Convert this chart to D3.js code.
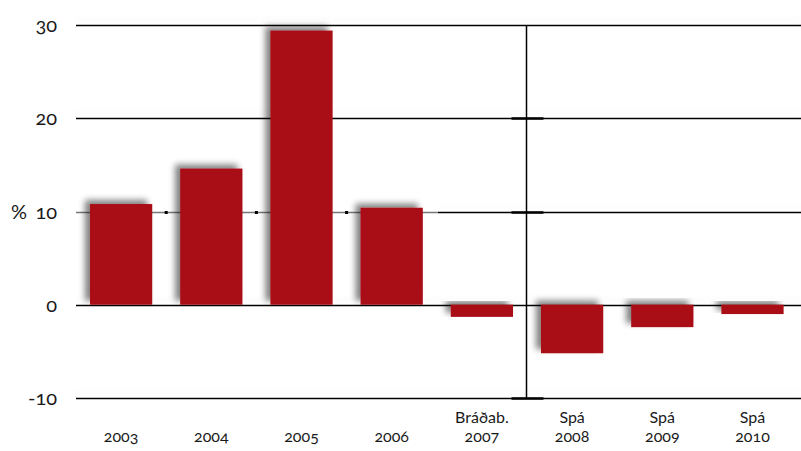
<!DOCTYPE html>
<html>
<head>
<meta charset="utf-8">
<script src="https://cdn.jsdelivr.net/npm/d3@7"></script>
<style>
  body { margin: 0; background: #fff; }
  text { font-family: "Lato", "Open Sans", sans-serif; font-variant-numeric: oldstyle-nums; fill: #1a1a1a; }
</style>
</head>
<body>
<div id="chart"></div>
<script>
// Data
let categories = ["2003", "2004", "2005", "2006", "Bráðab.\n2007", "Spá\n2008", "Spá\n2009", "Spá\n2010"];
let values = [10.8, 14.6, 29.4, 10.4, -1.3, -5.2, -2.4, -1.0];
let yTicks = [-10, 0, 10, 20, 30];

let svgWidth = 801;
let svgHeight = 451;
let margin = { top: 25, right: 0, bottom: 53, left: 76 };
let width = svgWidth - margin.left - margin.right;
let height = svgHeight - margin.top - margin.bottom;

let svg = d3.select("#chart")
  .append("svg")
  .attr("width", svgWidth)
  .attr("height", svgHeight);

// soft shadows
let defs = svg.append("defs");
let barShadow = defs.append("filter").attr("id", "barShadow")
  .attr("x", "-30%").attr("y", "-30%").attr("width", "160%").attr("height", "160%");
barShadow.append("feGaussianBlur").attr("in", "SourceAlpha").attr("stdDeviation", 3).attr("result", "b");
barShadow.append("feOffset").attr("in", "b").attr("dx", -5).attr("dy", -4).attr("result", "o");
barShadow.append("feComponentTransfer").attr("in", "o").attr("result", "s")
  .append("feFuncA").attr("type", "linear").attr("slope", 0.5);
let m1 = barShadow.append("feMerge");
m1.append("feMergeNode").attr("in", "s");
m1.append("feMergeNode").attr("in", "SourceGraphic");

let lineShadow = defs.append("filter").attr("id", "lineShadow")
  .attr("filterUnits", "userSpaceOnUse")
  .attr("x", -10).attr("y", -20).attr("width", 820).attr("height", 440);
lineShadow.append("feGaussianBlur").attr("in", "SourceAlpha").attr("stdDeviation", 3).attr("result", "b");
lineShadow.append("feOffset").attr("in", "b").attr("dx", 0).attr("dy", -6).attr("result", "o");
lineShadow.append("feComponentTransfer").attr("in", "o").attr("result", "s")
  .append("feFuncA").attr("type", "linear").attr("slope", 0.06);
let m2 = lineShadow.append("feMerge");
m2.append("feMergeNode").attr("in", "s");
m2.append("feMergeNode").attr("in", "SourceGraphic");

let chartGroup = svg.append("g")
  .attr("transform", `translate(${margin.left}, ${margin.top})`);

let xScale = d3.scaleBand()
  .domain(categories)
  .range([0, 8 * 90.2])
  .paddingInner(0.31)
  .paddingOuter(0.155);

let yScale = d3.scaleLinear()
  .domain([-10, 30])
  .range([height, 0]);

let snap = v => Math.round(v) + 0.5;

// gridlines
chartGroup.append("g")
  .attr("filter", "url(#lineShadow)")
  .selectAll("line")
  .data(yTicks)
  .enter()
  .append("line")
  .attr("x1", d => d === 10 ? xScale(categories[4]) - 13 : 0)
  .attr("x2", width)
  .attr("y1", d => snap(yScale(d)))
  .attr("y2", d => snap(yScale(d)))
  .attr("stroke", "#000")
  .attr("stroke-width", 1.5);

// left part of the 10 line sits under the bar shadows, so it reads grey
chartGroup.append("line")
  .attr("x1", 0)
  .attr("x2", xScale(categories[4]) - 13)
  .attr("y1", snap(yScale(10)))
  .attr("y2", snap(yScale(10)))
  .attr("stroke", "#777")
  .attr("stroke-width", 1.5);

chartGroup.append("g")
  .selectAll("rect")
  .data(categories.slice(1, 4))
  .enter()
  .append("rect")
  .attr("x", d => xScale(d) - xScale.step() * xScale.paddingInner() / 2 - 1.5)
  .attr("y", Math.round(yScale(10)) - 1)
  .attr("width", 3)
  .attr("height", 3)
  .attr("fill", "#000");

// y tick labels
chartGroup.append("g")
  .selectAll("text")
  .data(yTicks)
  .enter()
  .append("text")
  .attr("x", -19)
  .attr("y", d => yScale(d))
  .attr("dy", "0.35em")
  .attr("text-anchor", "end")
  .attr("font-size", "20px")
  .text(d => d);

chartGroup.append("text")
  .attr("x", -49)
  .attr("y", yScale(10))
  .attr("dy", "0.35em")
  .attr("text-anchor", "end")
  .attr("font-size", "20px")
  .text("%");

// vertical divider between actual and forecast
let divX = Math.round((xScale(categories[4]) + xScale.bandwidth() + xScale(categories[5])) / 2) - 0.5;
chartGroup.append("line")
  .attr("x1", divX).attr("x2", divX)
  .attr("y1", yScale(30)).attr("y2", yScale(-10))
  .attr("stroke", "#000")
  .attr("stroke-width", 1.5);

chartGroup.append("g")
  .selectAll("line")
  .data([-10, 10, 20])
  .enter()
  .append("line")
  .attr("x1", divX - 15).attr("x2", divX + 17)
  .attr("y1", d => snap(yScale(d)))
  .attr("y2", d => snap(yScale(d)))
  .attr("stroke", "#000")
  .attr("stroke-width", 2.5);

// bars
chartGroup.append("g")
  .selectAll("rect")
  .data(values)
  .enter()
  .append("rect")
  .attr("x", (d, i) => xScale(categories[i]))
  .attr("width", xScale.bandwidth())
  .attr("y", d => yScale(Math.max(0, d)))
  .attr("height", d => Math.abs(yScale(d) - yScale(0)))
  .attr("fill", "#a91016")
  .attr("filter", "url(#barShadow)");

// category labels, one text per line
let labelRows = [];
categories.forEach(c => {
  let lines = c.split("\n");
  lines.forEach((l, i) => labelRows.push({ cat: c, text: l, row: lines.length - 1 - i }));
});

chartGroup.append("g")
  .selectAll("text")
  .data(labelRows)
  .enter()
  .append("text")
  .attr("x", d => xScale(d.cat) + xScale.bandwidth() / 2)
  .attr("y", d => height + 44 - d.row * 19)
  .attr("text-anchor", "middle")
  .attr("font-size", "16px")
  .text(d => d.text);
</script>
</body>
</html>
